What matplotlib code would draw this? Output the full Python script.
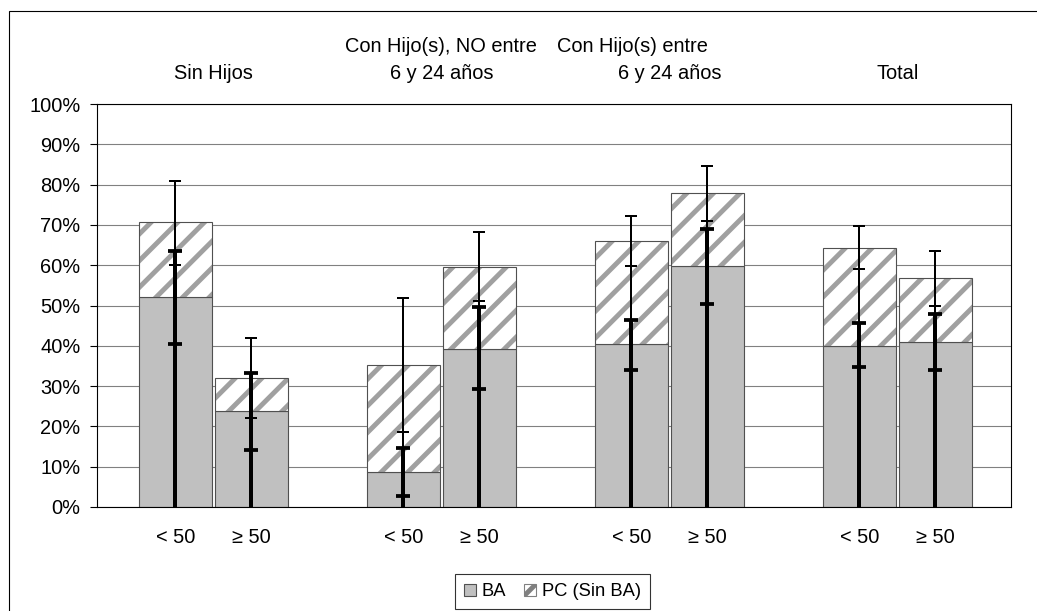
import matplotlib.pyplot as plt
from matplotlib.patches import Patch, Rectangle
from matplotlib.ticker import PercentFormatter

plt.rcParams["font.family"] = ["Liberation Sans", "DejaVu Sans"]
plt.rcParams["hatch.linewidth"] = 4.4

# datos (%)
grupos = [("Sin Hijos", ""), ("Con Hijo(s), NO entre", "6 y 24 años"),
          ("Con Hijo(s) entre", "6 y 24 años"), ("Total", "")]
edades = ["< 50", "≥ 50"] * 4
posiciones = [0, 1, 3, 4, 6, 7, 9, 10]

ba = [52.0, 23.7, 8.6, 39.2, 40.4, 59.9, 40.0, 40.9]
total = [70.6, 32.1, 35.2, 59.5, 65.9, 77.8, 64.2, 56.7]
pc = [t - b for t, b in zip(total, ba)]

# intervalos: fino = total (BA + PC), grueso = BA
total_inf = [60.0, 22.2, 18.6, 51.1, 59.9, 71.0, 59.1, 49.9]
total_sup = [81.0, 42.0, 51.9, 68.2, 72.2, 84.6, 69.8, 63.5]
ba_inf = [40.5, 14.2, 2.7, 29.3, 34.1, 50.4, 34.8, 34.1]
ba_sup = [63.5, 33.3, 14.6, 49.6, 46.4, 69.1, 45.6, 48.0]

DPI = 80
FS = 18
fig = plt.figure(figsize=(1037 / DPI, 611 / DPI), dpi=DPI)
ax = fig.add_axes([97 / 1037, 104 / 611, 913.7 / 1037, 403 / 611])

ancho = 0.96
gris = "#C0C0C0"
borde = "#505050"

ax.bar(posiciones, ba, width=ancho, color=gris, edgecolor=borde, linewidth=1, zorder=2)
ax.bar(posiciones, pc, bottom=ba, width=ancho, color="white", edgecolor="#A0A0A0",
       hatch="/", linewidth=0, zorder=2)
ax.bar(posiciones, pc, bottom=ba, width=ancho, fill=False, edgecolor=borde,
       linewidth=1, zorder=3)

# barras de error
ax.vlines(posiciones, 0, total_sup, color="black", linewidth=1.8, zorder=4)
ax.vlines(posiciones, 0, ba_sup, color="black", linewidth=3.6, zorder=5)
for lim in (total_inf, total_sup):
    ax.plot(posiciones, lim, linestyle="none", marker="_", markersize=11,
            markeredgewidth=1.8, color="black", zorder=6)
for lim in (ba_inf, ba_sup):
    ax.plot(posiciones, lim, linestyle="none", marker="_", markersize=12,
            markeredgewidth=3.4, color="black", zorder=6)

ax.set_xlim(-1.03, 10.99)
ax.set_ylim(0, 100)
ax.set_yticks(range(0, 101, 10))
ax.yaxis.set_major_formatter(PercentFormatter(decimals=0))
ax.yaxis.grid(True, color="#808080", linewidth=1)
ax.set_axisbelow(True)
ax.set_xticks(posiciones)
ax.set_xticklabels(edades)
ax.tick_params(axis="x", length=0, pad=19, labelsize=FS)
ax.tick_params(axis="y", length=6, width=1, direction="out", pad=9, labelsize=FS)
for s in ax.spines.values():
    s.set_color("black")
    s.set_linewidth(1)

# etiquetas de grupo arriba
desplaz = [0, 0, -0.48, 0]
for i, (l1, l2) in enumerate(grupos):
    xc = (posiciones[2 * i] + posiciones[2 * i + 1]) / 2
    if l2:
        ax.text(xc + desplaz[i], 1.142, l1, transform=ax.get_xaxis_transform(),
                ha="center", va="center", fontsize=FS)
        ax.text(xc, 1.075, l2, transform=ax.get_xaxis_transform(),
                ha="center", va="center", fontsize=FS)
    else:
        ax.text(xc, 1.075, l1, transform=ax.get_xaxis_transform(),
                ha="center", va="center", fontsize=FS)

# marco exterior del grafico
fig.patches.append(Rectangle((9 / 1037, -0.1), 1.2, (600 / 611) + 0.1,
                             transform=fig.transFigure, fill=False,
                             edgecolor="black", linewidth=1))

manejadores = [Patch(facecolor=gris, edgecolor=borde, label="BA"),
               Patch(facecolor="white", edgecolor="#808080", hatch="/", label="PC (Sin BA)")]
leg = fig.legend(handles=manejadores, loc="upper left",
                 bbox_to_anchor=(455 / 1037, 1 - 574 / 611), ncol=2, fontsize=16.5,
                 frameon=True, fancybox=False, edgecolor="black", borderpad=0.5,
                 handlelength=0.65, handleheight=0.65, handletextpad=0.3,
                 columnspacing=1.0, borderaxespad=0)
leg.get_frame().set_linewidth(1)

fig.savefig("out.png", dpi=DPI)
